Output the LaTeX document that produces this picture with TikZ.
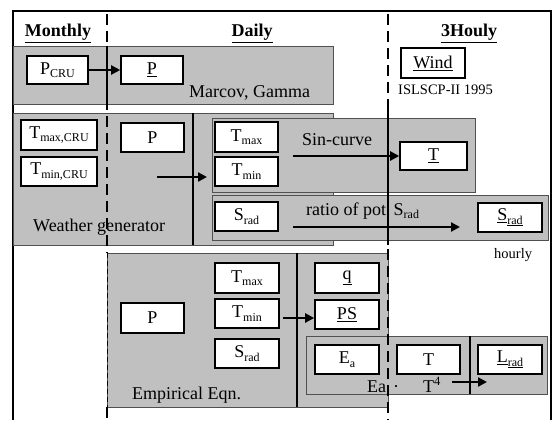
\documentclass[tikz,border=0pt]{standalone}
\usepackage{fontspec}
\setmainfont{Liberation Serif}
\usetikzlibrary{arrows.meta}
\definecolor{boxgray}{HTML}{C0C0C0}
\definecolor{edgegray}{HTML}{505050}
% lowered small subscript, as in T_max
\newcommand{\dn}[1]{\raisebox{-3.5pt}{\fontsize{12}{12}\selectfont #1}}
\tikzset{
  wbox/.style={draw, line width=1.6pt, fill=white, inner sep=0pt, font=\fontsize{18}{20}\selectfont},
  gbox/.style={draw=edgegray, line width=0.8pt, fill=boxgray, inner sep=0pt},
  lbl/.style={inner sep=0pt, anchor=base west, font=\fontsize{18}{20}\selectfont},
  smalllbl/.style={inner sep=0pt, anchor=base west, font=\fontsize{14.5}{16}\selectfont},
  head/.style={inner sep=0pt, anchor=base, font=\fontsize{18}{20}\selectfont\bfseries},
  flow/.style={line width=2.2pt, -{Triangle[length=9pt,width=9pt]}},
  divider/.style={line width=2.4pt},
  timeline/.style={line width=2.6pt, dash pattern=on 11pt off 6pt},
}
\begin{document}
\begin{tikzpicture}[x=1pt,y=-1pt]
\useasboundingbox (0,0) rectangle (553,420);

% outer frame
\draw[line width=2pt] (13,420) -- (13,11) -- (551,11) -- (551,420);

% column headings
\node[head] (hmon) at (58,37) {\underline{Monthly}};
\node[head] (hday) at (252,37) {\underline{Daily}};
\node[head] (hhr)  at (469,37) {\underline{3Houly}};

% ---- precipitation row
\node[gbox, minimum width=320pt, minimum height=58pt] (rowp) at (173,75) {};
\draw[divider] (rowp.north west -| 107,0) -- (rowp.south west -| 107,0);
\node[wbox, minimum width=61pt, minimum height=28pt] (pcru) at (57.5,70) {P\dn{CRU}};
\node[wbox, minimum width=62pt, minimum height=28pt] (pday) at (152,70) {\underline{P}};
\draw[flow] (pcru.east) -- (pday.west);
\node[lbl] (markov) at (189,97) {Marcov, Gamma};

% wind
\node[wbox, line width=2.6pt, minimum width=64pt, minimum height=30pt] (wind) at (433,63) {\underline{Wind}};
\node[smalllbl] (islscp) at (398,94) {ISLSCP-II 1995};

% ---- weather generator
\node[gbox, minimum width=320pt, minimum height=132pt] (wgen) at (173,179) {};
\draw[divider] (wgen.north west -| 193,0) -- (wgen.south west -| 193,0);
\node[gbox, minimum width=263pt, minimum height=74pt] (sinbox) at (343.5,155) {};
\node[gbox, minimum width=336pt, minimum height=45pt] (radrow) at (380,217.5) {};
\draw[divider] (388,110) -- (388,245);

\node[wbox, minimum width=76pt, minimum height=30pt] (tmaxcru) at (59,135) {T\dn{max,CRU}};
\node[wbox, minimum width=76pt, minimum height=29pt] (tmincru) at (59,171.5) {T\dn{min,CRU}};
\node[wbox, minimum width=63pt, minimum height=29pt] (pgen) at (152.5,137.5) {P};
\node[lbl] (wgtext) at (33,231) {Weather generator};
\coordinate (wgA) at (157,177);
\coordinate (wgB) at (207,177);
\draw[flow] (wgA) -- (wgB);

\node[wbox, minimum width=63pt, minimum height=30pt] (tmaxd) at (246.5,137) {T\dn{max}};
\node[wbox, minimum width=63pt, minimum height=29pt] (tmind) at (246.5,171.5) {T\dn{min}};
\node[lbl] (sintext) at (302,145) {Sin-curve};
\node[wbox, minimum width=67pt, minimum height=28pt] (thr) at (433.5,156) {\underline{T}};
\coordinate (sinA) at (293,156);
\draw[flow] (sinA) -- (thr.west);

\node[wbox, minimum width=63pt, minimum height=29pt] (sradd) at (246.5,216.5) {S\dn{rad}};
\node[lbl] (ratiotext) at (306,215) {ratio of pot\, S\dn{rad}};
\node[wbox, minimum width=64pt, minimum height=29pt] (sradhr) at (510,217.5) {\underline{S}\dn{\underline{rad}}};
\coordinate (radA) at (293,227);
\coordinate (radB) at (460,227);
\draw[flow] (radA) -- (radB);
\node[smalllbl] (hourly) at (494,258) {hourly};

% ---- empirical equations
\node[gbox, minimum width=281pt, minimum height=154pt] (emp) at (247.5,330) {};
\draw[divider] (emp.north west -| 297,0) -- (emp.south west -| 297,0);
\node[gbox, minimum width=241pt, minimum height=58pt] (lwrow) at (426.5,365) {};
\draw[divider] (lwrow.north west -| 470,0) -- (lwrow.south west -| 470,0);

\node[wbox, minimum width=63pt, minimum height=30pt] (pemp) at (152.5,318) {P};
\node[wbox, minimum width=64pt, minimum height=30pt] (tmaxe) at (247,278) {T\dn{max}};
\node[wbox, minimum width=64pt, minimum height=29pt] (tmine) at (247,313.5) {T\dn{min}};
\node[wbox, minimum width=64pt, minimum height=29pt] (srade) at (247,353.5) {S\dn{rad}};
\node[lbl] (emptext) at (132,399) {Empirical Eqn.};

\node[wbox, minimum width=64pt, minimum height=30pt] (qbox) at (347,278) {\underline{q}};
\node[wbox, minimum width=64pt, minimum height=29pt] (psbox) at (347,314.5) {\underline{PS}};
\coordinate (empA) at (283,318);
\draw[flow] (empA) -- (empA -| psbox.west);

\node[wbox, minimum width=64pt, minimum height=29pt] (eabox) at (347,359.5) {E\dn{a}};
\node[wbox, minimum width=63pt, minimum height=29pt] (tbox) at (428.5,359.5) {T};
\node[wbox, minimum width=64pt, minimum height=29pt] (lrad) at (510,359.5) {\underline{L}\dn{\underline{rad}}};
\node[lbl] (eatext) at (367,392) {Ea};
\node[lbl] (dottext) at (393,392) {\textperiodcentered};
\node[lbl] (t4text) at (423,392) {T\textsuperscript{4}};
\coordinate (lwA) at (452,382);
\coordinate (lwB) at (487,382);
\draw[flow] (lwA) -- (lwB);

% ---- time-step boundaries
\draw[timeline] (107,14) -- (107,253);
\draw[line width=1pt, dash pattern=on 5pt off 3pt] (107,253) -- (107,407);
\draw[timeline] (107,407) -- (107,420);
\draw[timeline] (388,14) -- (388,110);
\draw[timeline] (388,249) -- (388,420);
\end{tikzpicture}
\end{document}
